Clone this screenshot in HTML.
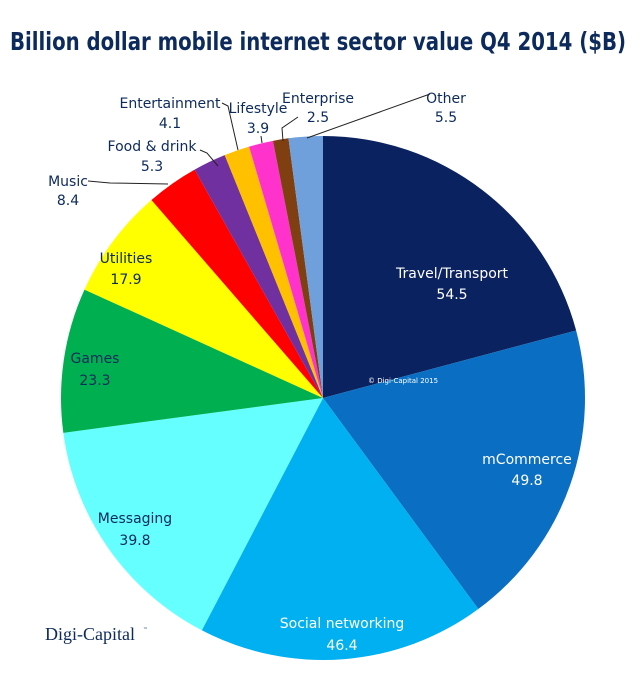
<!DOCTYPE html>
<html><head><meta charset="utf-8"><style>
body{margin:0;background:#fff;width:636px;height:680px;overflow:hidden}
svg text{font-family:"DejaVu Sans","Liberation Sans",sans-serif}
</style></head><body>
<svg id="s" width="636" height="680" xmlns="http://www.w3.org/2000/svg">
<text x="318" y="50" text-anchor="middle" font-size="25" font-weight="bold" fill="#0d2a5c" textLength="616" lengthAdjust="spacingAndGlyphs">Billion dollar mobile internet sector value Q4 2014 ($B)</text>
<g id="pie"></g>
<g fill="none" stroke="#222" stroke-width="1">
<polyline points="88,181 110,183 168,184"/>
<polyline points="200,150 207,153 218,166"/>
<polyline points="222,103 228,106 238,150"/>
<polyline points="261,136 262,143"/>
<polyline points="298,117 282,128 283,141"/>
<polyline points="430,94 307,138"/>
</g>
<g font-size="14" fill="#0d2a5c" text-anchor="middle">
<text x="452" y="278" fill="#fff">Travel/Transport</text><text x="452" y="299" fill="#fff">54.5</text>
<text x="527" y="464" fill="#fff">mCommerce</text><text x="527" y="485" fill="#fff">49.8</text>
<text x="342" y="628" fill="#fff">Social networking</text><text x="342" y="650" fill="#fff">46.4</text>
<text x="135" y="523">Messaging</text><text x="135" y="545">39.8</text>
<text x="95" y="363">Games</text><text x="95" y="385">23.3</text>
<text x="126" y="263">Utilities</text><text x="126" y="284">17.9</text>
<text x="68" y="186">Music</text><text x="68" y="205">8.4</text>
<text x="152" y="151">Food &amp; drink</text><text x="152" y="171">5.3</text>
<text x="170" y="108">Entertainment</text><text x="170" y="128">4.1</text>
<text x="258" y="113">Lifestyle</text><text x="258" y="133">3.9</text>
<text x="318" y="103">Enterprise</text><text x="318" y="122">2.5</text>
<text x="446" y="103">Other</text><text x="446" y="122">5.5</text>
</g>
<text x="403" y="383" font-size="7" fill="#fff" text-anchor="middle">© Digi-Capital 2015</text>
<text x="45" y="640" font-family="Liberation Serif,serif" font-size="18" fill="#0d2a5c" style="font-family:'Liberation Serif',serif">Digi-Capital</text>
<text x="143" y="631" font-size="5" fill="#0d2a5c">™</text>
</svg>
<script>
var d=[[54.5,"#0b2260"],[49.8,"#0a6fc2"],[46.4,"#00b0f0"],[39.8,"#66ffff"],[23.3,"#00b050"],[17.9,"#ffff00"],[8.4,"#ff0000"],[5.3,"#7030a0"],[4.1,"#ffc000"],[3.9,"#ff33cc"],[2.5,"#7f3f10"],[5.5,"#6fa0dc"]];
var t=0;d.forEach(function(x){t+=x[0]});
var cx=323,cy=398,r=262,a=0,h="";
d.forEach(function(x){var b=a+x[0]/t*2*Math.PI;
var x1=cx+r*Math.sin(a),y1=cy-r*Math.cos(a),x2=cx+r*Math.sin(b),y2=cy-r*Math.cos(b);
h+='<path d="M'+cx+','+cy+'L'+x1.toFixed(2)+','+y1.toFixed(2)+'A'+r+','+r+' 0 '+((b-a)>Math.PI?1:0)+' 1 '+x2.toFixed(2)+','+y2.toFixed(2)+'Z" fill="'+x[1]+'"/>';a=b;});
document.getElementById("pie").innerHTML=h;
</script>
</body></html>
